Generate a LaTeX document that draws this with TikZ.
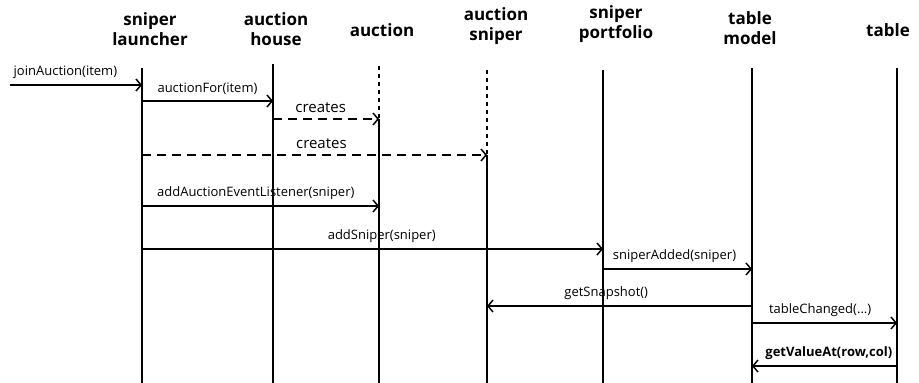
\documentclass[tikz,border=0pt]{standalone}
\usepackage{fontspec}
\setmainfont{Open Sans}
\usetikzlibrary{arrows.meta, positioning, calc}
\tikzset{
  header/.style={
    align=center, inner sep=0pt,
    font=\fontsize{17}{20}\selectfont\bfseries
  },
  lifeline/.style={line width=1.7pt},
  prelife/.style={line width=1.7pt, dash pattern=on 4pt off 4pt},
  msg/.style={-{Straight Barb[length=5pt,width=12pt,line width=1.5pt]}, line width=1.5pt},
  createmsg/.style={msg, dash pattern=on 9pt off 6pt},
  lbl/.style={font=\fontsize{13}{15}\selectfont, inner sep=1pt, above=5pt},
  biglbl/.style={lbl, font=\fontsize{15}{17}\selectfont}
}

\begin{document}
\begin{tikzpicture}[x=1pt, y=-1pt]
  \useasboundingbox (0,0) rectangle (919,383);

  %% ---- Participants ----
  \node[header] (launcher)  at (150,29) {sniper\\launcher};
  \node[header] (house)     at (276,29) {auction\\house};
  \node[header] (auction)   at (382,30) {auction};
  \node[header] (asniper)   at (496,26) {auction\\sniper};
  \node[header] (portfolio) at (616,24) {sniper\\portfolio};
  \node[header] (model)     at (750,28) {table\\model};
  \node[header] (table)     at (888,30) {table};

  %% ---- Lifeline tops and bottom ----
  \coordinate (launchertop)  at (142,68);
  \coordinate (housetop)     at (273,64);
  \coordinate (auctiontop)   at (379,66);
  \coordinate (asnipertop)   at (487,70);
  \coordinate (portfoliotop) at (603,70);
  \coordinate (modeltop)     at (752,68);
  \coordinate (tabletop)     at (897,68);
  \coordinate (bottom)       at (0,383);

  %% ---- Message rows ----
  \coordinate (entry)       at (10,85);
  \coordinate (forrow)      at (0,101);
  \coordinate (create1row)  at (0,119);
  \coordinate (create2row)  at (0,155);
  \coordinate (listenrow)   at (0,206);
  \coordinate (addrow)      at (0,249);
  \coordinate (addedrow)    at (0,269);
  \coordinate (snaprow)     at (0,306);
  \coordinate (changedrow)  at (0,323);
  \coordinate (valuerow)    at (0,366);

  %% ---- Lifelines ----
  \draw[lifeline] (launchertop) -- (launchertop |- bottom);
  \draw[lifeline] (housetop) -- (housetop |- bottom);
  \draw[prelife]  (auctiontop) -- (auctiontop |- create1row);
  \draw[lifeline] (auctiontop |- create1row) -- (auctiontop |- bottom);
  \draw[prelife]  (asnipertop) -- (asnipertop |- create2row);
  \draw[lifeline] (asnipertop |- create2row) -- (asnipertop |- bottom);
  \draw[lifeline] (portfoliotop) -- (portfoliotop |- bottom);
  \draw[lifeline] (modeltop) -- (modeltop |- bottom);
  \draw[lifeline] (tabletop) -- (tabletop |- bottom);

  %% ---- Messages ----
  \draw[msg] (entry) -- (launchertop |- entry)
    node[lbl, pos=0.42]{joinAuction(item)};
  \draw[msg] (launchertop |- forrow) -- (housetop |- forrow)
    node[lbl, midway]{auctionFor(item)};
  \draw[createmsg] (housetop |- create1row) -- (auctiontop |- create1row)
    node[biglbl, pos=0.45]{creates};
  \draw[createmsg] (launchertop |- create2row) -- (asnipertop |- create2row)
    node[biglbl, pos=0.52]{creates};
  \draw[msg] (launchertop |- listenrow) -- (auctiontop |- listenrow)
    node[lbl, pos=0.48]{addAuctionEventListener(sniper)};
  \draw[msg] (launchertop |- addrow) -- (portfoliotop |- addrow)
    node[lbl, pos=0.52]{addSniper(sniper)};
  \draw[msg] (portfoliotop |- addedrow) -- (modeltop |- addedrow)
    node[lbl, pos=0.48]{sniperAdded(sniper)};
  \draw[msg] (modeltop |- snaprow) -- (asnipertop |- snaprow)
    node[lbl, pos=0.55]{getSnapshot()};
  \draw[msg] (modeltop |- changedrow) -- (tabletop |- changedrow)
    node[lbl, pos=0.47]{tableChanged(...)};
  \draw[msg] (tabletop |- valuerow) -- (modeltop |- valuerow)
    node[lbl, pos=0.47]{\textbf{getValueAt(row,col)}};

\end{tikzpicture}
\end{document}
